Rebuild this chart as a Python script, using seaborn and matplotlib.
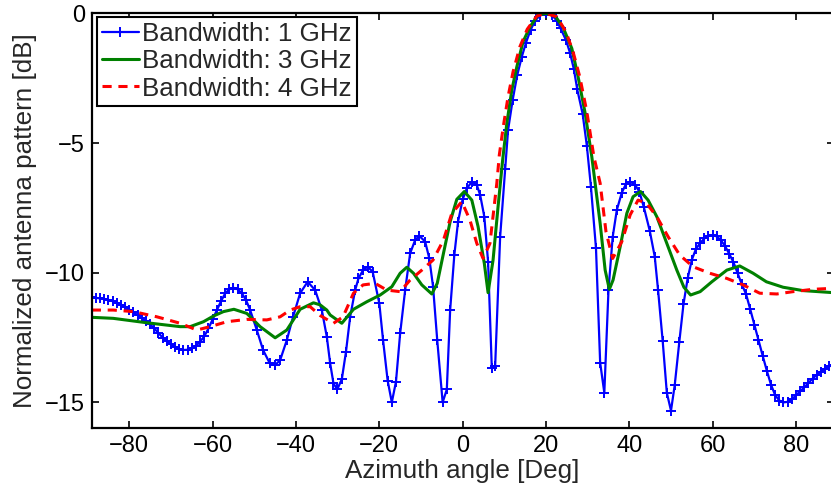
import numpy as np
import pandas as pd
import matplotlib
matplotlib.use("Agg")
import matplotlib.pyplot as plt
import seaborn as sns

# ---- data ----
bw1_angle = [-89, -88, -87, -86, -85, -84, -83, -82, -81, -80, -79, -78, -77, -76, -75, -74, -73,
             -72, -71, -70, -69, -68, -67, -66, -65, -64, -63, -62, -61, -60, -59, -58, -57, -56,
             -55, -54, -53, -52, -51.0, -49.4, -47.9, -46.3, -45.0, -43.8, -42.2, -40.7, -39.0, -37.2,
             -35.4, -33.8, -32.6, -31.8, -31.0, -30.1, -29.0, -28.0, -27.0, -25.8, -25.0, -23.9,
             -22.8, -21.6, -20.0, -19.1, -18.0, -17.0, -16.0, -15.0, -13.8, -12.6, -11.4, -10.4,
             -9.0, -8.0, -7.1, -6.1, -4.8, -3.8, -3.0, -2.0, -1.1, 0.0, 1.0, 2.2, 3.4, 4.2, 5.2,
             6.1, 7.0, 7.8, 9.0, 10.2, 10.9, 12.0, 13.1, 14.2, 15.2, 16.3, 17.4, 18.6, 20.0, 21.4,
             22.6, 23.5, 24.8, 25.8, 26.7, 27.5, 28.8, 29.8, 30.8, 32.0, 33.0, 34.0, 35.0, 36.0,
             37.0, 38.2, 39.2, 40.2, 41.4, 42.4, 43.5, 44.9, 46.1, 46.9, 48.0, 49.0, 50.0, 50.9,
             52.0, 53.0, 54.0, 55, 56, 57, 58, 59, 60, 61, 62, 63, 64, 65, 66, 67, 68, 69, 70,
             71, 72, 73, 74, 75, 76, 77, 78, 79, 80, 81, 82, 83, 84, 85, 86, 87, 88, 89]
bw1_db = [-10.95, -10.97, -10.99, -11.01, -11.05, -11.10, -11.16, -11.23, -11.32, -11.42, -11.53, -11.63,
          -11.74, -11.86, -11.99, -12.15, -12.33, -12.50, -12.64, -12.76, -12.86, -12.94, -12.98, -12.97,
          -12.92, -12.82, -12.66, -12.45, -12.15, -11.80, -11.45, -11.10, -10.80, -10.64, -10.58, -10.64,
          -10.79, -11.05, -11.44, -12.21, -12.98, -13.49, -13.56, -13.37, -12.60, -11.70, -10.79, -10.35,
          -10.67, -11.44, -12.47, -13.49, -14.27, -14.50, -14.11, -13.05, -11.70, -10.67, -10.22, -9.90,
          -9.77, -9.96, -11.18, -12.60, -14.16, -15.00, -14.20, -12.34, -10.67, -9.25, -8.74, -8.58,
          -8.80, -9.45, -10.54, -12.60, -15.00, -14.50, -11.44, -9.32, -8.03, -7.17, -6.75, -6.49, -6.62, -7.00, -7.84,
          -9.57, -13.69, -13.60, -8.61, -6.00, -4.50, -3.34, -2.38, -1.67, -1.13, -0.64, -0.28, -0.07, 0.0, -0.06,
          -0.28, -0.58, -1.03, -1.54, -2.16, -2.93, -3.88, -5.10, -6.71, -9.06, -13.47, -14.63, -10.67, -8.63,
          -7.58, -6.91, -6.58, -6.49, -6.62, -6.87, -7.48, -8.38, -9.38, -10.67, -12.62, -14.63, -15.32, -14.33,
          -12.66, -11.21, -10.22, -9.50, -9.08, -8.86, -8.68, -8.58, -8.55, -8.60, -8.75, -8.98, -9.28, -9.60,
          -10.02, -10.45, -10.82, -11.40, -12.00, -12.60, -13.20, -13.78, -14.32, -14.72, -14.93, -15.00, -14.98,
          -14.88, -14.73, -14.57, -14.42, -14.25, -14.08, -13.94, -13.81, -13.70, -13.61, -13.55]

bw3_angle = [-89.0, -83.85, -75.8, -67.8, -65.4, -62.2, -59.8, -57.4, -54.9, -51.8, -48.6, -45.0,
             -42.2, -39.0, -35.8, -34.2, -32.6, -31.8, -29.0, -26.2, -23.0, -19.8, -17.0, -15.0,
             -13.4, -11.8, -9.8, -7.4, -6.1, -4.6, -3.0, -1.4, 0.4, 2.2, 3.7, 5.2, 6.1, 7.3, 8.5,
             9.6, 10.6, 11.8, 13.0, 14.5, 16.2, 18.1, 20.0, 22.2, 24.1, 26.2, 27.7, 29.4, 31.0,
             33.0, 34.2, 35.2, 36.1, 37.8, 39.4, 40.9, 42.7, 44.5, 46.6, 49.0, 51.4, 53.1, 54.7,
             57.0, 59.8, 63.4, 66.5, 69.7, 72.9, 76.9, 81.7, 89.0]
bw3_db = [-11.72, -11.76, -11.93, -12.08, -12.08, -11.89, -11.67, -11.50, -11.41, -11.57, -12.08, -12.51,
          -12.21, -11.41, -11.16, -11.24, -11.44, -11.63, -11.95, -11.41, -11.12, -10.86, -10.54, -10.02,
          -9.79, -10.02, -10.47, -10.82, -10.41, -9.25, -8.03, -7.17, -6.87, -7.20, -8.22, -9.64, -10.77, -9.51, -7.45,
          -5.65, -4.24, -2.95, -2.06, -1.09, -0.51, -0.06, 0.0, -0.10, -0.54, -1.35, -2.44, -3.85, -5.53,
          -8.10, -9.90, -10.64, -10.28, -9.00, -7.71, -7.07, -6.87, -7.20, -7.84, -8.87, -9.90, -10.56, -10.86,
          -10.73, -10.35, -9.90, -9.74, -10.02, -10.35, -10.56, -10.69, -10.77]

bw4_angle = [-89.0, -83.85, -79.0, -73.4, -67.8, -63.8, -60.6, -56.6, -51.8, -47.0, -43.8, -41.4,
             -39.0, -36.6, -34.2, -31.0, -28.7, -26.2, -23.9, -21.0, -18.2, -15.0, -12.6, -9.8,
             -7.1, -4.6, -2.6, -0.2, 1.75, 3.4, 4.9, 6.55, 8.2, 8.8, 9.75, 10.9, 12.1, 13.75, 15.5,
             17.8, 20.0, 22.6, 24.8, 26.5, 28.1, 29.8, 31.5, 33.0, 34.4, 36.0, 38.2, 40.2, 42.1,
             44.1, 46.6, 49.3, 52.1, 55.3, 59.3, 63.4, 67.3, 71.3, 75.4, 79.3, 84.1, 89.0]
bw4_db = [-11.44, -11.44, -11.50, -11.70, -11.95, -12.21, -12.08, -11.89, -11.80, -11.82, -11.70, -11.44,
          -11.31, -11.31, -11.65, -11.95, -11.70, -10.79, -10.47, -10.41, -10.67, -10.73, -10.28, -9.90,
          -9.51, -8.74, -7.71, -7.26, -7.97, -8.87, -9.45, -8.87, -6.55, -5.46, -4.37, -3.21, -2.25, -1.28, -0.61,
          -0.10, 0.0, -0.13, -0.71, -1.48, -2.44, -3.79, -5.53, -6.55, -8.42, -9.45, -8.80, -7.77, -7.20,
          -7.32, -7.84, -8.61, -9.32, -9.77, -10.02, -10.22, -10.47, -10.79, -10.82, -10.73, -10.64, -10.60]

labels = ["Bandwidth: 1 GHz", "Bandwidth: 3 GHz", "Bandwidth: 4 GHz"]
x_ticks = [-80, -60, -40, -20, 0, 20, 40, 60, 80]
y_ticks = [-15, -10, -5, 0]

# ---- style ----
sns.set_theme(style="ticks")
plt.rcParams["font.family"] = ["Liberation Sans", "DejaVu Sans"]

fig = plt.figure(figsize=(8.31, 4.95), dpi=100)
ax = fig.add_axes([91.8 / 831, 1 - 428.3 / 495, 741.7 / 831, 414.9 / 495])

sns.lineplot(x=bw1_angle, y=bw1_db, ax=ax, color=(0, 0, 1), linewidth=1.6, marker="+",
             markersize=7, markeredgewidth=1.4, markeredgecolor=(0, 0, 1), label=labels[0],
             estimator=None, sort=False)
sns.lineplot(x=bw3_angle, y=bw3_db, ax=ax, color=(0, 0.5, 0), linewidth=2.2, label=labels[1],
             estimator=None, sort=False)
sns.lineplot(x=bw4_angle, y=bw4_db, ax=ax, color=(1, 0, 0), linewidth=2.2, label=labels[2],
             estimator=None, sort=False)
ax.lines[2].set_linestyle((0, (3, 2.2)))

ax.set_xlim(-89, 89)
ax.set_ylim(-16, 0)
ax.set_xticks(x_ticks)
ax.set_yticks(y_ticks)
ax.tick_params(direction="in", length=5, width=1.2, top=True, right=True,
               labelsize=17, colors="black", pad=5)
for s in ax.spines.values():
    s.set_visible(True)
    s.set_color("black")
    s.set_linewidth(1.6)

ax.set_xlabel("Azimuth angle [Deg]", fontsize=18.7, labelpad=1)
ax.set_ylabel("Normalized antenna pattern [dB]", fontsize=18.7, labelpad=6)

leg = ax.legend(loc="upper left", bbox_to_anchor=(0.007, 0.991), borderaxespad=0,
                fontsize=18.7, frameon=True, fancybox=False, framealpha=1,
                edgecolor="black", handlelength=1.4, handletextpad=0.15,
                labelspacing=0.12, borderpad=0.2)
leg.get_frame().set_linewidth(1.5)

fig.savefig("out.png", dpi=100)
